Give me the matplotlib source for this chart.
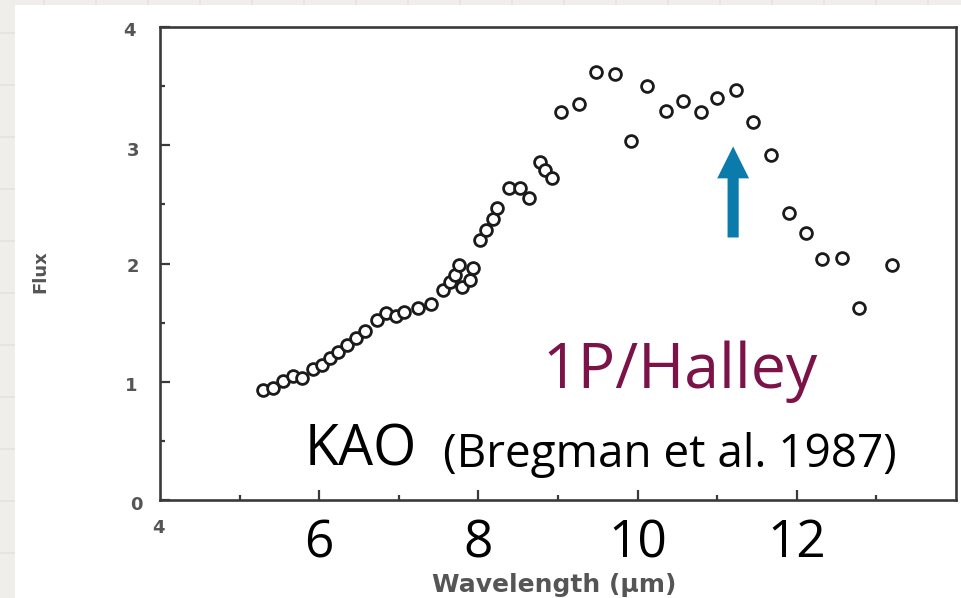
import matplotlib.pyplot as plt
from matplotlib.lines import Line2D
from matplotlib.patches import FancyArrow, Rectangle

# Halley 5-13 um spectrum (KAO, Bregman et al. 1987)
wavelength = [5.29, 5.42, 5.54, 5.67, 5.79, 5.92, 6.03, 6.13, 6.23, 6.35,
              6.46, 6.57, 6.72, 6.84, 6.96, 7.07, 7.24, 7.41, 7.55, 7.64,
              7.70, 7.76, 7.80, 7.89, 7.93, 8.02, 8.10, 8.18, 8.23, 8.39,
              8.52, 8.64, 8.77, 8.84, 8.92, 9.04, 9.27, 9.48, 9.71, 9.92,
              10.12, 10.36, 10.57, 10.80, 11.00, 11.23, 11.45, 11.67, 11.90, 12.12,
              12.32, 12.57, 12.78, 13.20]
flux = [0.93, 0.95, 1.01, 1.05, 1.03, 1.11, 1.14, 1.20, 1.25, 1.31,
        1.37, 1.43, 1.52, 1.58, 1.56, 1.59, 1.62, 1.66, 1.78, 1.84,
        1.90, 1.99, 1.80, 1.86, 1.96, 2.20, 2.28, 2.38, 2.47, 2.64,
        2.64, 2.55, 2.86, 2.79, 2.72, 3.28, 3.35, 3.62, 3.60, 3.04,
        3.50, 3.29, 3.37, 3.28, 3.40, 3.47, 3.20, 2.92, 2.43, 2.26,
        2.04, 2.05, 1.62, 1.99]

big_ticks = [6, 8, 10, 12]
flux_ticks = [0, 1, 2, 3, 4]
arrow_x = 11.2           # 11.2 um crystalline olivine feature
arrow_span = (2.22, 2.99)

W, H = 961, 598
OVERLAY_FONT = "Open Sans"
SCAN_GRAY = "#555555"

fig = plt.figure(figsize=(W / 100, H / 100), dpi=100, facecolor="#efeeea")

# faint graph-paper backdrop, then the white page on top of it
for gx in range(-8, W, 52):
    fig.add_artist(Line2D([gx / W, gx / W], [0, 1], color="#e4e3de", lw=1.2,
                          zorder=-5))
for gy in range(33, H, 52):
    fig.add_artist(Line2D([0, 1], [1 - gy / H, 1 - gy / H], color="#e4e3de",
                          lw=1.2, zorder=-5))
fig.add_artist(Rectangle((15 / W, 0), 1, 1 - 5 / H, transform=fig.transFigure,
                         facecolor="white", edgecolor="none", zorder=-4))

ax = fig.add_axes([160 / W, 1 - 500 / H, (956 - 160) / W, (500 - 27) / H])
ax.set_facecolor("none")
ax.set_xlim(4, 14)
ax.set_ylim(0, 4)

ax.plot(wavelength, flux, ls="none", marker="o", ms=8.5, mfc="white",
        mec="#1b1b1b", mew=2.0, zorder=3)

for side in ax.spines.values():
    side.set_color("#3a3a3a")
    side.set_linewidth(1.9)

ax.set_xticks(big_ticks)
ax.set_xticks([5, 7, 9, 11, 13], minor=True)
ax.set_yticks(flux_ticks)
ax.set_yticks([0.5, 1.5, 2.5, 3.5], minor=True)
ax.set_yticklabels([])
ax.tick_params(which="both", direction="in", color="#3a3a3a", width=1.6,
               top=False, right=False)
ax.tick_params(which="major", length=7)
ax.tick_params(which="minor", length=3.5)
ax.tick_params(axis="x", which="major", pad=13, labelsize=37)
for lab in ax.get_xticklabels():
    lab.set_fontfamily(OVERLAY_FONT)
    lab.set_color("black")

# small labels carried over from the printed figure
scan_labels = [("4", 129, 31), ("3", 133, 151), ("2", 133, 267), ("1", 131, 386),
               ("0", 136, 505), ("4", 158, 528)]
for txt, px, py in scan_labels:
    fig.text(px / W, 1 - py / H, txt, ha="center", va="center", fontsize=13,
             color=SCAN_GRAY, fontweight="bold", fontfamily="DejaVu Sans")
fig.text(40 / W, 1 - 272 / H, "Flux", rotation=90, ha="center", va="center",
         fontsize=13, color=SCAN_GRAY, fontweight="bold")
fig.text(554 / W, 1 - 585 / H, "Wavelength (\u03bcm)", ha="center", va="center",
         fontsize=18, color=SCAN_GRAY, fontweight="bold")

ax.add_patch(FancyArrow(arrow_x, arrow_span[0], 0, arrow_span[1] - arrow_span[0],
                        width=0.14, head_width=0.40, head_length=0.27,
                        length_includes_head=True, color="#0b7bab",
                        linewidth=0, zorder=4))

fig.text(542 / W, 1 - 388 / H, "1P/Halley", ha="left", va="baseline",
         fontsize=45, color="#7b1248", fontfamily=OVERLAY_FONT)
fig.text(305 / W, 1 - 466 / H, "KAO", ha="left", va="baseline",
         fontsize=40, color="black", fontfamily=OVERLAY_FONT)
fig.text(443 / W, 1 - 467 / H, "(Bregman et al. 1987)", ha="left", va="baseline",
         fontsize=33, color="black", fontfamily=OVERLAY_FONT)

fig.savefig("out.png", dpi=100, facecolor=fig.get_facecolor())
